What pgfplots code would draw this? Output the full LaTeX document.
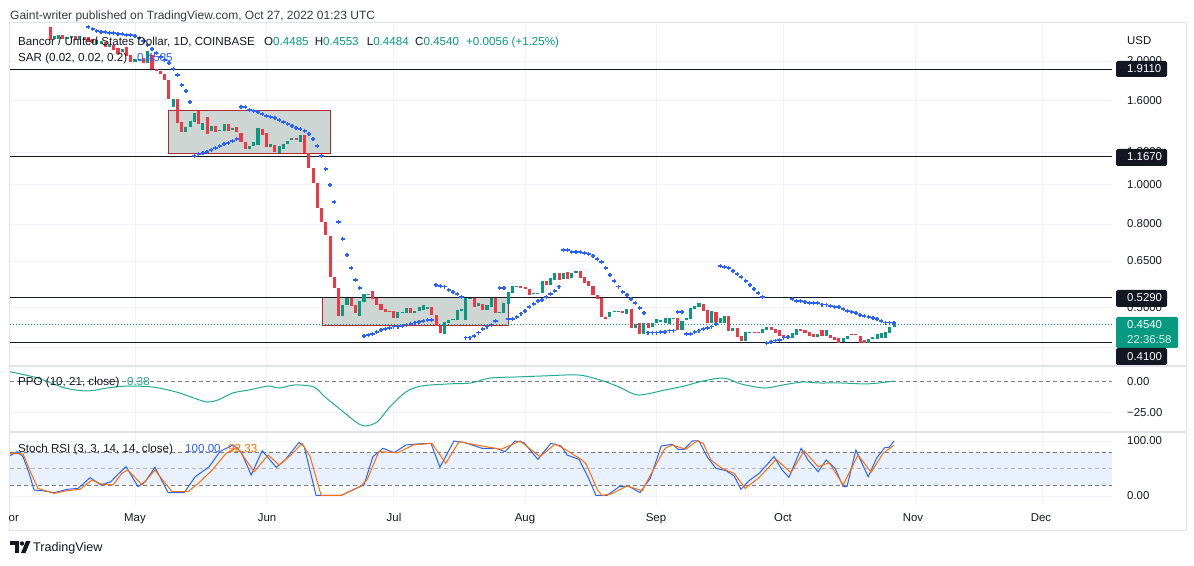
\documentclass[border=0pt]{standalone}
\usepackage{pgfplots}
\pgfplotsset{compat=1.18}
\usepackage{fontspec}
\setmainfont{Liberation Sans}
\definecolor{tvgreen}{RGB}{8,153,129}
\definecolor{tvred}{RGB}{242,54,69}
\definecolor{sarblue}{RGB}{41,98,255}
\definecolor{ppoc}{RGB}{34,171,148}
\definecolor{tvorange}{RGB}{255,109,0}
\definecolor{gridc}{RGB}{240,243,250}
\definecolor{framec}{RGB}{224,227,235}
\definecolor{tvdark}{RGB}{19,23,34}
\definecolor{dashc}{RGB}{120,123,134}
\definecolor{bandc}{RGB}{232,241,253}
\definecolor{boxfill}{RGB}{206,214,212}
\definecolor{boxedge}{RGB}{178,40,48}
\newcommand{\fs}{\fontsize{11.4pt}{13pt}\selectfont}
\newcommand{\fl}{\fontsize{11.6pt}{13pt}\selectfont}
\pgfplotsset{tvpane/.style={
  scale only axis, width=1102pt, xmin=-29.48, xmax=230.4,
  anchor=south west,
  axis line style={draw=none}, tick style={draw=none},
  xtick={0,31,61,92,123,153,184,214}, xticklabels={}, yticklabels={},
  xmajorgrids, ymajorgrids, major grid style={gridc, line width=0.9pt},
  unbounded coords=jump,
}}
\begin{document}
\begin{tikzpicture}
\fill[white] (0pt,0pt) rectangle (1194pt,565pt);
\path[use as bounding box] (0pt,0pt) rectangle (1194pt,565pt);

% ---------------- main price pane ----------------
\begin{axis}[tvpane, at={(10pt,199pt)}, height=343pt, ymode=log,
  ymin=0.3601, ymax=2.479, ytick={0.4,0.5,0.65,0.8,1,1.2,1.6,2}]
\addplot[fill=boxfill, draw=boxedge, line width=1pt] coordinates {(8,1.187) (46.2,1.187) (46.2,1.5195) (8,1.5195)} -- cycle;
\addplot[fill=boxfill, draw=boxedge, line width=1pt] coordinates {(44.1,0.4532) (88,0.4532) (88,0.530) (44.1,0.530)} -- cycle;
\addplot[tvdark, line width=1.1pt] coordinates {(-29.48,1.911) (230.4,1.911)};
\addplot[tvdark, line width=1.1pt] coordinates {(-29.48,1.167) (230.4,1.167)};
\addplot[tvdark, line width=1.1pt] coordinates {(-29.48,0.529) (230.4,0.529)};
\addplot[tvdark, line width=1.1pt] coordinates {(-29.48,0.410) (230.4,0.410)};
\addplot[tvgreen, line width=1pt, dash pattern=on 1pt off 2pt] coordinates {(-29.48,0.454) (230.4,0.454)};
% green candles
\addplot[tvgreen, line width=3.1pt] coordinates {
(-19,2.265)(-19,2.304)(-19,nan)(-18,2.265)(-18,2.317)(-18,nan)(-16,2.265)(-16,2.291)(-16,nan)
(-15,2.278)(-15,2.304)(-15,nan)(-13,2.253)(-13,2.304)(-13,nan)(-9,2.202)(-9,2.253)(-9,nan)
(-8,2.202)(-8,2.240)(-8,nan)(-6,2.165)(-6,2.202)(-6,nan)(-3,2.106)(-3,2.141)(-3,nan)
(0,1.991)(0,2.025)(0,nan)(1,2.002)(1,2.025)(1,nan)(3,1.979)(3,2.118)(3,nan)
(9,1.546)(9,1.617)(9,nan)(12,1.343)(12,1.381)(12,nan)(13,1.381)(13,1.429)(13,nan)
(14,1.421)(14,1.494)(14,nan)(16,1.358)(16,1.412)(16,nan)(18,1.350)(18,1.389)(18,nan)
(20,1.350)(20,1.358)(20,nan)(21,1.350)(21,1.404)(21,nan)(23,1.358)(23,1.373)(23,nan)
(27,1.220)(27,1.241)(27,nan)(28,1.241)(28,1.269)(28,nan)(29,1.248)(29,1.373)(29,nan)
(32,1.234)(32,1.255)(32,nan)(34,1.193)(34,1.241)(34,nan)(35,1.220)(35,1.255)(35,nan)
(36,1.255)(36,1.276)(36,nan)(37,1.284)(37,1.298)(37,nan)(39,1.269)(39,1.320)(39,nan)
(49,0.477)(49,0.508)(49,nan)(50,0.508)(50,0.528)(50,nan)(53,0.477)(53,0.519)(53,nan)
(54,0.516)(54,0.540)(54,nan)(55,0.536)(55,0.540)(55,nan)(62,0.472)(62,0.488)(62,nan)
(63,0.485)(63,0.488)(63,nan)(64,0.485)(64,0.499)(64,nan)(66,0.485)(66,0.491)(66,nan)
(67,0.491)(67,0.502)(67,nan)(68,0.493)(68,0.508)(68,nan)(69,0.496)(69,0.502)(69,nan)
(73,0.431)(73,0.461)(73,nan)(74,0.459)(74,0.466)(74,nan)(75,0.466)(75,0.469)(75,nan)
(76,0.466)(76,0.493)(76,nan)(77,0.491)(77,0.496)(77,nan)(78,0.466)(78,0.528)(78,nan)
(79,0.525)(79,0.528)(79,nan)(81,0.505)(81,0.513)(81,nan)(83,0.493)(83,0.508)(83,nan)
(84,0.502)(84,0.528)(84,nan)(86,0.485)(86,0.488)(86,nan)(87,0.485)(87,0.513)(87,nan)
(88,0.510)(88,0.546)(88,nan)(89,0.543)(89,0.565)(89,nan)(90,0.562)(90,0.565)(90,nan)
(94,0.540)(94,0.543)(94,nan)(95,0.540)(95,0.543)(95,nan)(96,0.543)(96,0.581)(96,nan)
(98,0.568)(98,0.591)(98,nan)(99,0.584)(99,0.608)(99,nan)(101,0.587)(101,0.608)(101,nan)
(103,0.591)(103,0.608)(103,nan)(104,0.608)(104,0.614)(104,nan)(112,0.474)(112,0.488)(112,nan)
(113,0.488)(113,0.491)(113,nan)(114,0.488)(114,0.491)(114,nan)(116,0.483)(116,0.496)(116,nan)
(118,0.446)(118,0.456)(118,nan)(120,0.431)(120,0.459)(120,nan)(122,0.449)(122,0.459)(122,nan)
(123,0.459)(123,0.469)(123,nan)(124,0.461)(124,0.466)(124,nan)(125,0.459)(125,0.472)(125,nan)
(126,0.456)(126,0.472)(126,nan)(127,0.469)(127,0.472)(127,nan)(129,0.441)(129,0.464)(129,nan)
(130,0.466)(130,0.472)(130,nan)(131,0.469)(131,0.499)(131,nan)(132,0.496)(132,0.505)(132,nan)
(133,0.502)(133,0.513)(133,nan)(136,0.459)(136,0.491)(136,nan)(138,0.459)(138,0.472)(138,nan)
(139,0.459)(139,0.477)(139,nan)(141,0.439)(141,0.446)(141,nan)(144,0.415)(144,0.436)(144,nan)
(145,0.434)(145,0.436)(145,nan)(148,0.434)(148,0.443)(148,nan)(149,0.441)(149,0.449)(149,nan)
(155,0.422)(155,0.434)(155,nan)(156,0.429)(156,0.443)(156,nan)(161,0.424)(161,0.431)(161,nan)
(163,0.426)(163,0.441)(163,nan)(167,0.412)(167,0.422)(167,nan)(168,0.419)(168,0.426)(168,nan)
(173,0.410)(173,0.419)(173,nan)(174,0.419)(174,0.424)(174,nan)(175,0.419)(175,0.431)(175,nan)
(176,0.422)(176,0.434)(176,nan)(177,0.422)(177,0.436)(177,nan)(178,0.434)(178,0.449)(178,nan)
(179,0.4485)(179,0.4540)};
% red candles
\addplot[tvred, line width=3.1pt] coordinates {
(-20,2.253)(-20,2.424)(-20,nan)(-17,2.265)(-17,2.317)(-17,nan)(-14,2.253)(-14,2.304)(-14,nan)
(-12,2.253)(-12,2.291)(-12,nan)(-11,2.240)(-11,2.291)(-11,nan)(-10,2.215)(-10,2.265)(-10,nan)
(-7,2.165)(-7,2.227)(-7,nan)(-5,2.130)(-5,2.190)(-5,nan)(-4,2.082)(-4,2.153)(-4,nan)
(-2,2.059)(-2,2.165)(-2,nan)(-1,1.991)(-1,2.071)(-1,nan)(2,1.979)(2,2.036)(2,nan)
(4,1.914)(4,2.071)(4,nan)(5,1.892)(5,1.914)(5,nan)(6,1.860)(6,1.892)(6,nan)
(7,1.799)(7,1.860)(7,nan)(8,1.617)(8,1.799)(8,nan)(10,1.412)(10,1.617)(10,nan)
(11,1.343)(11,1.421)(11,nan)(15,1.404)(15,1.511)(15,nan)(17,1.328)(17,1.461)(17,nan)
(19,1.343)(19,1.389)(19,nan)(22,1.350)(22,1.404)(22,nan)(24,1.343)(24,1.381)(24,nan)
(25,1.269)(25,1.335)(25,nan)(26,1.220)(26,1.269)(26,nan)(30,1.320)(30,1.366)(30,nan)
(31,1.234)(31,1.335)(31,nan)(33,1.200)(33,1.248)(33,nan)(38,1.284)(38,1.298)(38,nan)
(40,1.193)(40,1.320)(40,nan)(41,1.097)(41,1.193)(41,nan)(42,1.008)(42,1.097)(42,nan)
(43,0.876)(43,1.008)(43,nan)(44,0.810)(44,0.876)(44,nan)(45,0.752)(45,0.810)(45,nan)
(46,0.594)(46,0.748)(46,nan)(47,0.558)(47,0.594)(47,nan)(48,0.477)(48,0.558)(48,nan)
(51,0.505)(51,0.528)(51,nan)(52,0.485)(52,0.508)(52,nan)(56,0.525)(56,0.549)(56,nan)
(57,0.508)(57,0.528)(57,nan)(58,0.493)(58,0.510)(58,nan)(59,0.488)(59,0.496)(59,nan)
(60,0.488)(60,0.491)(60,nan)(61,0.472)(61,0.491)(61,nan)(65,0.485)(65,0.499)(65,nan)
(70,0.480)(70,0.502)(70,nan)(71,0.451)(71,0.480)(71,nan)(72,0.434)(72,0.451)(72,nan)
(80,0.502)(80,0.528)(80,nan)(82,0.493)(82,0.510)(82,nan)(85,0.485)(85,0.528)(85,nan)
(91,0.558)(91,0.565)(91,nan)(92,0.555)(92,0.562)(92,nan)(93,0.537)(93,0.555)(93,nan)
(97,0.568)(97,0.581)(97,nan)(100,0.584)(100,0.608)(100,nan)(102,0.587)(102,0.611)(102,nan)
(105,0.591)(105,0.614)(105,nan)(106,0.574)(106,0.594)(106,nan)(107,0.565)(107,0.581)(107,nan)
(108,0.537)(108,0.565)(108,nan)(109,0.525)(109,0.537)(109,nan)(110,0.474)(110,0.528)(110,nan)
(111,0.469)(111,0.474)(111,nan)(115,0.485)(115,0.491)(115,nan)(117,0.446)(117,0.496)(117,nan)
(119,0.431)(119,0.459)(119,nan)(121,0.446)(121,0.459)(121,nan)(128,0.441)(128,0.472)(128,nan)
(134,0.491)(134,0.510)(134,nan)(135,0.459)(135,0.493)(135,nan)(137,0.461)(137,0.488)(137,nan)
(140,0.439)(140,0.477)(140,nan)(142,0.424)(142,0.446)(142,nan)(143,0.415)(143,0.426)(143,nan)
(146,0.434)(146,0.436)(146,nan)(147,0.434)(147,0.436)(147,nan)(150,0.441)(150,0.449)(150,nan)
(151,0.434)(151,0.443)(151,nan)(152,0.426)(152,0.441)(152,nan)(153,0.422)(153,0.429)(153,nan)
(154,0.422)(154,0.426)(154,nan)(157,0.439)(157,0.443)(157,nan)(158,0.434)(158,0.441)(158,nan)
(159,0.426)(159,0.436)(159,nan)(160,0.424)(160,0.431)(160,nan)(162,0.426)(162,0.441)(162,nan)
(164,0.422)(164,0.429)(164,nan)(165,0.417)(165,0.424)(165,nan)(166,0.410)(166,0.422)(166,nan)
(169,0.429)(169,0.431)(169,nan)(170,0.429)(170,0.431)(170,nan)(171,0.410)(171,0.426)(171,nan)
(172,0.410)(172,0.417)};
% parabolic SAR
\addplot[only marks, mark=+, mark size=2.1pt, color=sarblue, mark options={line width=1.3pt}] coordinates {
(-11,2.424)(-10,2.397)(-9,2.370)(-8,2.357)(-7,2.357)(-6,2.344)(-5,2.344)(-4,2.330)(-3,2.330)
(-2,2.317)(-1,2.317)(0,2.304)(1,2.278)(2,2.240)(3,2.190)(4,2.141)(5,2.094)(6,2.048)(7,2.013)
(8,1.979)(9,1.914)(10,1.850)(11,1.749)(12,1.691)(13,1.590)
(14,1.173)(15,1.187)(16,1.193)(17,1.200)(18,1.214)(19,1.227)(20,1.241)(21,1.255)(22,1.262)(23,1.276)(24,1.291)
(25,1.546)(26,1.546)(27,1.520)(28,1.511)(29,1.503)(30,1.486)(31,1.469)(32,1.461)(33,1.453)(34,1.437)
(35,1.421)(36,1.405)(37,1.389)(38,1.373)(39,1.366)(40,1.350)(41,1.328)(42,1.291)(43,1.241)(44,1.173)
(45,1.091)(46,0.997)(47,0.906)(48,0.810)(49,0.736)(50,0.672)(51,0.625)(52,0.584)(53,0.558)
(54,0.426)(55,0.429)(56,0.431)(57,0.436)(58,0.441)(59,0.443)(60,0.446)(61,0.449)(62,0.449)(63,0.451)
(64,0.454)(65,0.456)(66,0.459)(67,0.461)(68,0.464)(69,0.466)(70,0.466)
(71,0.568)(72,0.565)(73,0.562)(74,0.552)(75,0.546)(76,0.540)(77,0.531)
(78,0.422)(79,0.422)(80,0.426)(81,0.434)(82,0.443)(83,0.449)(84,0.454)(85,0.464)
(86,0.558)(87,0.558)
(88,0.469)(89,0.469)(90,0.474)(91,0.483)(92,0.491)(93,0.502)(94,0.510)(95,0.519)(96,0.522)(97,0.531)
(98,0.540)(99,0.549)(100,0.562)
(101,0.691)(102,0.691)(103,0.684)(104,0.684)(105,0.684)(106,0.680)(107,0.676)(108,0.669)(109,0.657)
(110,0.646)(111,0.625)(112,0.601)(113,0.581)(114,0.562)(115,0.546)(116,0.537)(117,0.525)(118,0.513)
(119,0.499)(120,0.485)
(121,0.434)(122,0.434)(123,0.434)(124,0.436)(125,0.436)(126,0.439)(127,0.439)
(128,0.488)(129,0.488)
(130,0.431)(131,0.431)(132,0.436)(133,0.439)(134,0.443)(135,0.446)(136,0.449)(137,0.456)
(138,0.632)(139,0.628)(140,0.625)(141,0.614)(142,0.604)(143,0.594)(144,0.581)(145,0.568)(146,0.555)
(147,0.543)(148,0.531)
(149,0.410)(150,0.412)(151,0.415)(152,0.417)(153,0.422)(154,0.424)
(155,0.525)(156,0.519)(157,0.519)(158,0.516)(159,0.513)(160,0.513)(161,0.513)(162,0.508)(163,0.508)
(164,0.505)(165,0.502)(166,0.502)(167,0.496)(168,0.491)(169,0.488)(170,0.485)(171,0.480)(172,0.477)
(173,0.474)(174,0.472)(175,0.469)(176,0.464)(177,0.459)(178,0.459)(179,0.4585)};
\end{axis}

% ---------------- PPO pane ----------------
\begin{axis}[tvpane, at={(10pt,133pt)}, height=66pt, ymin=-41.06, ymax=12.6, ytick={-25,0}]
\addplot[dashc, line width=0.8pt, dash pattern=on 4pt off 3pt] coordinates {(-29.48,0) (230.4,0)};
\addplot[ppoc, line width=1pt, smooth] coordinates {
(-29.6,8.0)(-22.9,2.8)(-16.5,-5.3)(-11.1,-7.7)(-6.6,-5.3)(-2.1,-3.7)(4.2,-4.5)(9.7,-8.5)(13.2,-12.6)
(17.0,-16.7)(19.6,-15.0)(23.1,-9.3)(26.9,-6.9)(31.4,-3.7)(34.0,-5.3)(37.7,-2.8)(42.2,-4.5)(44.8,-12.6)
(48.6,-23.2)(52.1,-32.9)(54.2,-36.2)(57.1,-32.9)(60.1,-20.7)(63.9,-8.5)(67.5,-3.7)(73.8,-2.0)(79.2,-1.2)
(83.7,2.8)(90.1,3.7)(96.2,4.5)(104.5,5.3)(109.7,1.2)(114.2,-4.5)(118.6,-11.0)(125.0,-6.9)(129.5,-3.7)
(134.0,0.4)(138.9,2.8)(142.9,-2.0)(148.4,-5.3)(152.8,-2.8)(157.5,-0.4)(161.1,-1.2)(166.5,-1.2)
(171.9,-2.0)(175.5,-1.2)(179,0.38)};
\end{axis}

% ---------------- Stoch RSI pane ----------------
\begin{axis}[tvpane, at={(10pt,60pt)}, height=73pt, ymin=-16.36, ymax=116.36, ytick={0,100}]
\addplot[fill=bandc, draw=none] coordinates {(-29.48,20) (230.4,20) (230.4,80) (-29.48,80)} -- cycle;
\addplot[dashc, line width=0.8pt, dash pattern=on 4pt off 3pt] coordinates {(-29.48,80) (230.4,80)};
\addplot[dashc!55, line width=0.8pt, dash pattern=on 4pt off 3pt] coordinates {(-29.48,50) (230.4,50)};
\addplot[dashc, line width=0.8pt, dash pattern=on 4pt off 3pt] coordinates {(-29.48,20) (230.4,20)};
\addplot[sarblue, line width=1pt] coordinates {
(-29.6,72.7)(-27.8,80.6)(-26.4,71.5)(-25.0,41.8)(-23.8,10.9)(-21.9,9.7)(-19.1,6.1)(-16.0,12.1)(-13.4,13.9)
(-10.6,33.3)(-8.0,20)(-5.7,26)(-3.8,41.2)(-2.1,53.3)(0.7,17)(2.4,26)(4.7,52.1)(7.8,6.1)(11.6,6.1)
(14.2,35)(17.5,53.3)(20.0,80.6)(23.1,92.7)(25.0,80.6)(27.4,38.2)(30.0,82.4)(33.3,52.1)(35.4,65.5)
(38.7,97.6)(39.9,89.7)(42.7,1)(45.8,1)(48.6,1)(52.1,13.9)(54.0,20)(56.1,71.5)(58.5,86.7)(61.1,78.8)
(63.9,92.7)(66.5,94.5)(69.8,95.8)(71.9,52.1)(75.2,100)(77.8,97)(81.8,86.7)(85.1,86.7)(87.3,80.6)
(89.6,100)(91.7,97)(95.0,66.7)(98.1,95.8)(100.5,90.9)(101.9,74.5)(104.7,66.7)(106.8,35)(108.7,1)
(111.3,1)(114.2,17)(116.3,18.2)(119.1,6.1)(121.5,32.1)(124.1,90.9)(126.7,94)(128.1,84.9)(129.5,84.9)
(131.4,100)(133.0,100)(134.9,71.5)(137.0,50.3)(139.4,46)(141.3,36.4)(142.9,12.1)(144.8,27.8)(147.2,41.2)
(150.7,71.5)(152.6,47.3)(154.2,34)(157.1,86.7)(158.7,65.5)(161.1,44.2)(163.0,65.5)(165.1,50.3)
(167.0,17)(167.9,17)(170.0,83.6)(172.9,35)(175.0,70.4)(176.9,88.5)(177.8,88.5)(179.0,100)};
\addplot[tvorange, line width=1pt] coordinates {
(-29.6,77.6)(-26.4,76.4)(-24.5,41.2)(-22.9,13.9)(-19.1,4.8)(-16.0,9.7)(-13.0,12.1)(-10.1,29)(-8.0,21.8)
(-5.2,20)(-3.1,41.2)(-1.7,47.3)(1.7,20)(4.7,47.3)(8.7,7.9)(12.5,7.9)(15.1,24.2)(18.2,47.3)(21.5,77.6)
(24.1,88.5)(25.9,68.5)(28.1,44.2)(31.4,74.5)(34.0,56.4)(36.8,74.5)(39.4,95.8)(41.3,71.5)(43.9,1)
(48.6,1)(53.1,17)(54.7,29)(57.5,80.6)(62.0,78.8)(65.6,92.7)(70.0,95.8)(73.3,59.4)(76.4,98.8)(81.8,90.9)
(86.3,84.9)(90.8,100)(95.5,71.5)(99.1,94.5)(101.7,83.6)(105.4,65.5)(106.4,58)(108.0,30)(109.0,12)
(110.1,1)(112.3,3.6)(116.0,18.2)(119.6,9.7)(122.2,47.3)(125.0,86.7)(126.7,92.7)(129.9,84.9)(132.5,100)
(134.0,95.8)(135.8,65.5)(138.4,50.3)(141.3,41.2)(143.9,13.9)(147.4,35)(151.2,66.7)(154.7,42.4)
(157.8,82.4)(161.1,53.3)(163.7,60.6)(167.0,20)(170.5,74.5)(173.6,43.1)(176.4,77.6)(179.0,92.33)};
\end{axis}

% ---------------- frame ----------------
\draw[framec, line width=1pt] (9pt,35pt) rectangle (1186pt,542pt);
\draw[framec, line width=1.6pt] (9pt,199pt) -- (1186pt,199pt);
\draw[framec, line width=1.6pt] (9pt,133pt) -- (1186pt,133pt);

% ---------------- price scale ----------------
\begin{scope}[every node/.style={anchor=base west, inner sep=0pt, font=\fs, text=tvdark}]
\node at (1127pt,520pt) {USD};
\node at (1127pt,500.5pt) {2.0000};
\node at (1127pt,460pt) {1.6000};
\node at (1127pt,409pt) {1.2000};
\node at (1127pt,376.6pt) {1.0000};
\node at (1127pt,337pt) {0.8000};
\node at (1127pt,300pt) {0.6500};
\node at (1127pt,253.4pt) {0.5000};
\node at (1127pt,179.5pt) {0.00};
\node at (1127pt,148.5pt) {−25.00};
\node at (1127pt,120pt) {100.00};
\node at (1127pt,65pt) {0.00};
\end{scope}
\fill[tvdark, rounded corners=1.5pt] (1116pt,488pt) rectangle (1167pt,504pt);
\fill[tvdark, rounded corners=1.5pt] (1116pt,399pt) rectangle (1167pt,416pt);
\fill[tvdark, rounded corners=1.5pt] (1116pt,258pt) rectangle (1167pt,275pt);
\fill[tvgreen, rounded corners=1.5pt] (1116pt,217pt) rectangle (1178pt,248pt);
\fill[tvdark, rounded corners=1.5pt] (1116pt,200pt) rectangle (1167pt,217pt);
\begin{scope}[every node/.style={anchor=base west, inner sep=0pt, font=\fs, text=white}]
\node at (1127pt,492pt) {1.9110};
\node at (1127pt,404pt) {1.1670};
\node at (1127pt,263pt) {0.5290};
\node at (1127pt,236pt) {0.4540};
\node[text=white!85!tvgreen] at (1127pt,221pt) {22:36:58};
\node at (1127pt,204.5pt) {0.4100};
\end{scope}

% ---------------- time scale ----------------
\begin{scope}[every node/.style={anchor=base, inner sep=0pt, font=\fs, text=tvdark}]
\node[anchor=base west] at (8.5pt,44pt) {or};
\node at (135pt,44pt) {May};
\node at (267pt,44pt) {Jun};
\node at (394pt,44pt) {Jul};
\node at (525pt,44pt) {Aug};
\node at (656pt,44pt) {Sep};
\node at (783pt,44pt) {Oct};
\node at (913pt,44pt) {Nov};
\node at (1041pt,44pt) {Dec};
\end{scope}

% ---------------- legends ----------------
\node[anchor=base west, inner sep=0pt, font=\fontsize{12pt}{14pt}\selectfont, text=tvdark!85] at (10pt,545.5pt) {Gaint-writer published on TradingView.com, Oct 27, 2022 01:23 UTC};
\begin{scope}[every node/.style={anchor=base west, inner sep=0pt, font=\fl, text=tvdark}]
\node at (18pt,519pt) {Bancor / United States Dollar, 1D, COINBASE};
\node at (264pt,519pt) {O\textcolor{tvgreen}{0.4485}};
\node at (314.6pt,519pt) {H\textcolor{tvgreen}{0.4553}};
\node at (366.6pt,519pt) {L\textcolor{tvgreen}{0.4484}};
\node at (415pt,519pt) {C\textcolor{tvgreen}{0.4540}};
\node[text=tvgreen] at (466pt,519pt) {+0.0056 (+1.25\%)};
\node at (18pt,503pt) {SAR (0.02, 0.02, 0.2)};
\node[text=sarblue] at (137pt,503pt) {0.4585};
\node at (18pt,179.5pt) {PPO (10, 21, close)};
\node[text=ppoc] at (127pt,179.5pt) {0.38};
\node at (18pt,112pt) {Stoch RSI (3, 3, 14, 14, close)};
\node[text=sarblue] at (185pt,112pt) {100.00};
\node[text=tvorange] at (228pt,112pt) {92.33};
\end{scope}

% ---------------- TradingView logo ----------------
\fill[tvdark] (10pt,20pt) rectangle (19pt,24pt);
\fill[tvdark] (14.5pt,12pt) rectangle (19pt,24pt);
\fill[tvdark] (22pt,21.5pt) circle (2.2pt);
\fill[tvdark] (21pt,12pt) -- (26pt,24pt) -- (30.5pt,24pt) -- (25.5pt,12pt) -- cycle;
\node[anchor=base west, inner sep=0pt, font=\fontsize{12.6pt}{14pt}\selectfont, text=tvdark] at (33pt,13.5pt) {TradingView};
\end{tikzpicture}
\end{document}
